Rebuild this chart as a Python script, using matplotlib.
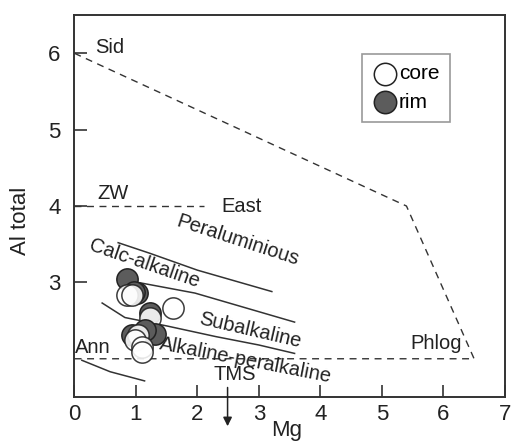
import matplotlib
matplotlib.use("Agg")
from matplotlib import pyplot as plt

plt.rcParams["font.family"] = ["Liberation Sans", "DejaVu Sans"]

# analysed biotites, in drawing order (kind, Mg, Al total)
pt_kind = ["rim", "rim", "rim", "core", "core", "core", "rim", "core",
           "rim", "rim", "rim", "core", "core", "core", "core"]
pt_mg = [0.86, 1.01, 0.97, 0.85, 0.93, 1.60, 1.23, 1.23,
         0.93, 1.31, 1.15, 1.04, 0.98, 1.09, 1.10]
pt_al = [3.05, 2.86, 2.88, 2.84, 2.83, 2.67, 2.60, 2.53,
         2.31, 2.33, 2.38, 2.31, 2.24, 2.15, 2.09]

# end-member field (dashed)
field_x = [0, 5.4, 6.5, 0]
field_y = [6.0, 4.0, 2.0, 2.0]
zw_x = [0, 2.1]
zw_y = [4.0, 4.0]

# magma-type boundaries (solid)
b1_x = [0.71, 1.23, 2.0, 3.21]
b1_y = [3.52, 3.38, 3.16, 2.88]
b2_x = [0.80, 1.03, 1.96, 3.58]
b2_y = [3.05, 3.00, 2.86, 2.48]
b3_x = [0.45, 0.82, 1.5, 2.3, 3.0, 3.58]
b3_y = [2.73, 2.54, 2.43, 2.29, 2.18, 2.07]
b4_x = [0.12, 0.58, 1.14]
b4_y = [1.98, 1.83, 1.71]

fig = plt.figure(figsize=(5.12, 4.45), dpi=100)
ax = fig.add_axes([0.1455, 0.108, 0.8405, 0.858])

dash = (0, (5, 4))
ax.plot(field_x, field_y, color="#333333", lw=1.0, linestyle=dash)
ax.plot(zw_x, zw_y, color="#333333", lw=1.0, linestyle=dash)
for bx, by in [(b1_x, b1_y), (b2_x, b2_y), (b3_x, b3_y), (b4_x, b4_y)]:
    ax.plot(bx, by, color="#333333", lw=1.1)

colors = {"core": "white", "rim": "#5c5c5c"}
for k, x, y in zip(pt_kind, pt_mg, pt_al):
    ax.scatter(x, y, s=235, facecolor=colors[k], edgecolor="#222222",
               linewidth=1.1, alpha=0.88 if k == "core" else 1.0, zorder=3)

# legend handles
ax.scatter([], [], s=260, facecolor="white", edgecolor="#222222", linewidth=1.1, label="core")
ax.scatter([], [], s=260, facecolor="#5c5c5c", edgecolor="#222222", linewidth=1.1, label="rim")
leg = ax.legend(loc="upper left", bbox_to_anchor=(0.667, 0.898), borderaxespad=0,
                fancybox=False, fontsize=15, handletextpad=0.0, labelspacing=0.45,
                borderpad=0.5, handlelength=1.3, framealpha=1)
leg.get_frame().set_edgecolor("#999999")
leg.get_frame().set_linewidth(1.2)

tc = "#222222"
fs = 14.5
ax.text(0.33, 6.08, "Sid", fontsize=fs, color=tc, va="center")
ax.text(0.38, 4.16, "ZW", fontsize=fs, color=tc, va="center")
ax.text(2.72, 4.0, "East", fontsize=fs, color=tc, va="center", ha="center")
ax.text(2.65, 3.55, "Peraluminious", fontsize=fs, color=tc, va="center", ha="center", rotation=-18)
ax.text(1.14, 3.25, "Calc-alkaline", fontsize=fs, color=tc, va="center", ha="center", rotation=-19)
ax.text(2.85, 2.37, "Subalkaline", fontsize=fs, color=tc, va="center", ha="center", rotation=-13)
ax.text(2.78, 1.98, "Alkaline-peralkaline", fontsize=fs, color=tc, va="center", ha="center", rotation=-11)
ax.text(0.3, 2.15, "Ann", fontsize=fs, color=tc, va="center", ha="center")
ax.text(5.88, 2.2, "Phlog", fontsize=fs, color=tc, va="center", ha="center")
ax.text(2.6, 1.8, "TMS", fontsize=fs, color=tc, va="center", ha="center")
ax.annotate("", xy=(2.49, 1.08), xytext=(2.49, 1.66), annotation_clip=False,
            arrowprops=dict(arrowstyle="-|>", color="#222222", lw=1.1, mutation_scale=13))

ax.set_xlim(0, 7)
ax.set_ylim(1.5, 6.5)
ax.set_xticks(range(0, 8))
ax.set_yticks([3, 4, 5, 6])
ax.tick_params(direction="in", length=9, width=1.2, colors="#333333", labelsize=16,
               labelcolor="#222222")
ax.tick_params(axis="y", pad=10)
ax.tick_params(axis="x", pad=5)
for s in ax.spines.values():
    s.set_linewidth(1.4)
    s.set_color("#333333")

ax.set_xlabel("Mg", fontsize=16, color="#222222")
ax.xaxis.set_label_coords(0.493, -0.06)
ax.set_ylabel("Al total", fontsize=16, color="#222222")
ax.yaxis.set_label_coords(-0.1, 0.46)

plt.savefig("out.png", dpi=100)
